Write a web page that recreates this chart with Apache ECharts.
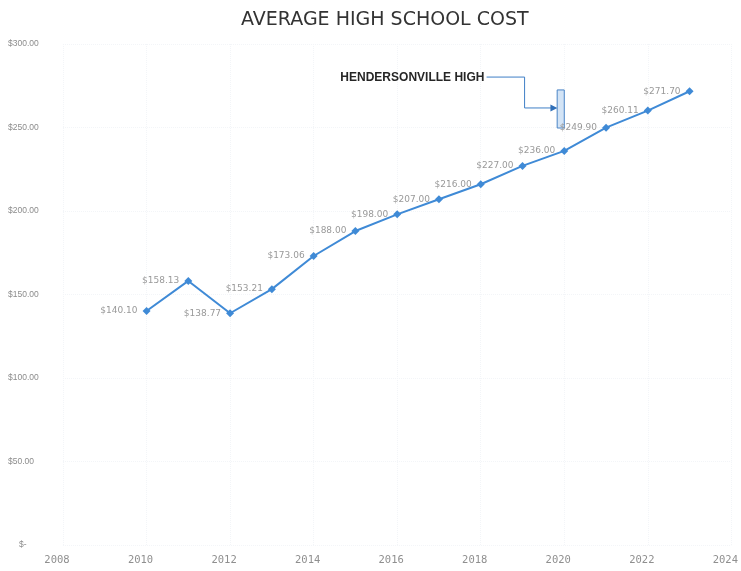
<!DOCTYPE html>
<html>
<head>
<meta charset="utf-8">
<script src="https://cdn.jsdelivr.net/npm/echarts@6/dist/echarts.min.js"></script>
<style>
  html, body { margin: 0; padding: 0; background: #ffffff; }
  #chart { width: 741px; height: 571px; }
</style>
</head>
<body>
<div id="chart"></div>
<script>
// Average cost per year
const years = [2010, 2011, 2012, 2013, 2014, 2015, 2016, 2017, 2018, 2019, 2020, 2021, 2022, 2023];
const costs = [140.10, 158.13, 138.77, 153.21, 173.06, 188.00, 198.00, 207.00, 216.00, 227.00, 236.00, 249.90, 260.11, 271.70];
const yTicks = [0, 50, 100, 150, 200, 250, 300];
const xTicks = [2008, 2010, 2012, 2014, 2016, 2018, 2020, 2022, 2024];
const calloutText = 'HENDERSONVILLE HIGH';

const money = v => v === 0 ? '$-' : '$' + v.toFixed(2);

const chart = echarts.init(document.getElementById('chart'));

chart.setOption({
  backgroundColor: '#ffffff',
  animation: false,
  title: {
    text: 'AVERAGE HIGH SCHOOL COST',
    left: 236,
    top: 6,
    textStyle: {
      fontFamily: 'DejaVu Sans',
      fontSize: 19,
      fontWeight: 'normal',
      color: '#333333'
    }
  },
  grid: { left: 63, right: 6, top: 44, bottom: 26, containLabel: false },
  xAxis: {
    type: 'value',
    min: xTicks[0],
    max: xTicks[xTicks.length - 1],
    interval: 2,
    axisLine: { show: false },
    axisTick: { show: false },
    splitLine: { show: true, lineStyle: { color: '#f3f5f8', type: 'dotted' } },
    axisLabel: {
      margin: 10,
      color: '#8f8f8f',
      fontSize: 10.5,
      fontFamily: 'DejaVu Sans Mono',
      padding: [0, 12, 0, 0],
      showMaxLabel: true,
      formatter: v => String(v)
    }
  },
  yAxis: {
    type: 'value',
    min: yTicks[0],
    max: yTicks[yTicks.length - 1],
    interval: 50,
    axisLine: { show: false },
    axisTick: { show: false },
    splitLine: { show: true, lineStyle: { color: '#f3f5f8', type: 'dotted' } },
    axisLabel: {
      align: 'left',
      margin: 55,
      color: '#8c8c8c',
      fontSize: 8.5,
      fontFamily: 'Liberation Sans',
      formatter: v => v === 0 ? '{z|$-}' : money(v),
      rich: { z: { padding: [0, 0, 0, 11], fontSize: 8.5, color: '#8c8c8c' } }
    }
  },
  series: [{
    type: 'line',
    data: years.map((y, i) => [y, costs[i]]),
    symbol: 'diamond',
    symbolSize: 8,
    lineStyle: { color: '#3f8ad6', width: 2 },
    itemStyle: { color: '#3f8ad6' },
    label: {
      show: true,
      position: 'left',
      distance: 5,
      color: '#999999',
      fontSize: 9,
      fontFamily: 'DejaVu Sans',
      formatter: p => money(p.value[1])
    }
  }]
});

// Callout for the school, anchored in data space near the 2020 point
function drawCallout() {
  const p = (x, y) => chart.convertToPixel({ gridIndex: 0 }, [x, y]);
  const textPt = p(2014.64, 280.0);
  const a = p(2018.14, 280.2);
  const b = p(2019.05, 280.2);
  const c = p(2019.05, 261.7);
  const d = p(2019.74, 261.7);
  const barTop = p(2019.83, 272.5);
  const barBot = p(2020.00, 249.7);
  chart.setOption({
    graphic: [
      {
        type: 'text',
        x: textPt[0],
        y: textPt[1],
        style: {
          text: calloutText,
          fill: '#262626',
          font: 'bold 12px "Liberation Sans"',
          textVerticalAlign: 'middle'
        }
      },
      {
        type: 'polyline',
        shape: { points: [a, b, c, d] },
        style: { stroke: '#3f7fc6', lineWidth: 1, fill: null }
      },
      {
        type: 'polygon',
        shape: { points: [[d[0] + 4, d[1]], [d[0] - 3, d[1] - 3.5], [d[0] - 3, d[1] + 3.5]] },
        style: { fill: '#2f6fb8' }
      },
      {
        type: 'rect',
        shape: { x: barTop[0], y: barTop[1], width: barBot[0] - barTop[0], height: barBot[1] - barTop[1] },
        style: { fill: '#d3e4f6', stroke: '#4a84c6', lineWidth: 1 }
      }
    ]
  });
}
drawCallout();
</script>
</body>
</html>
